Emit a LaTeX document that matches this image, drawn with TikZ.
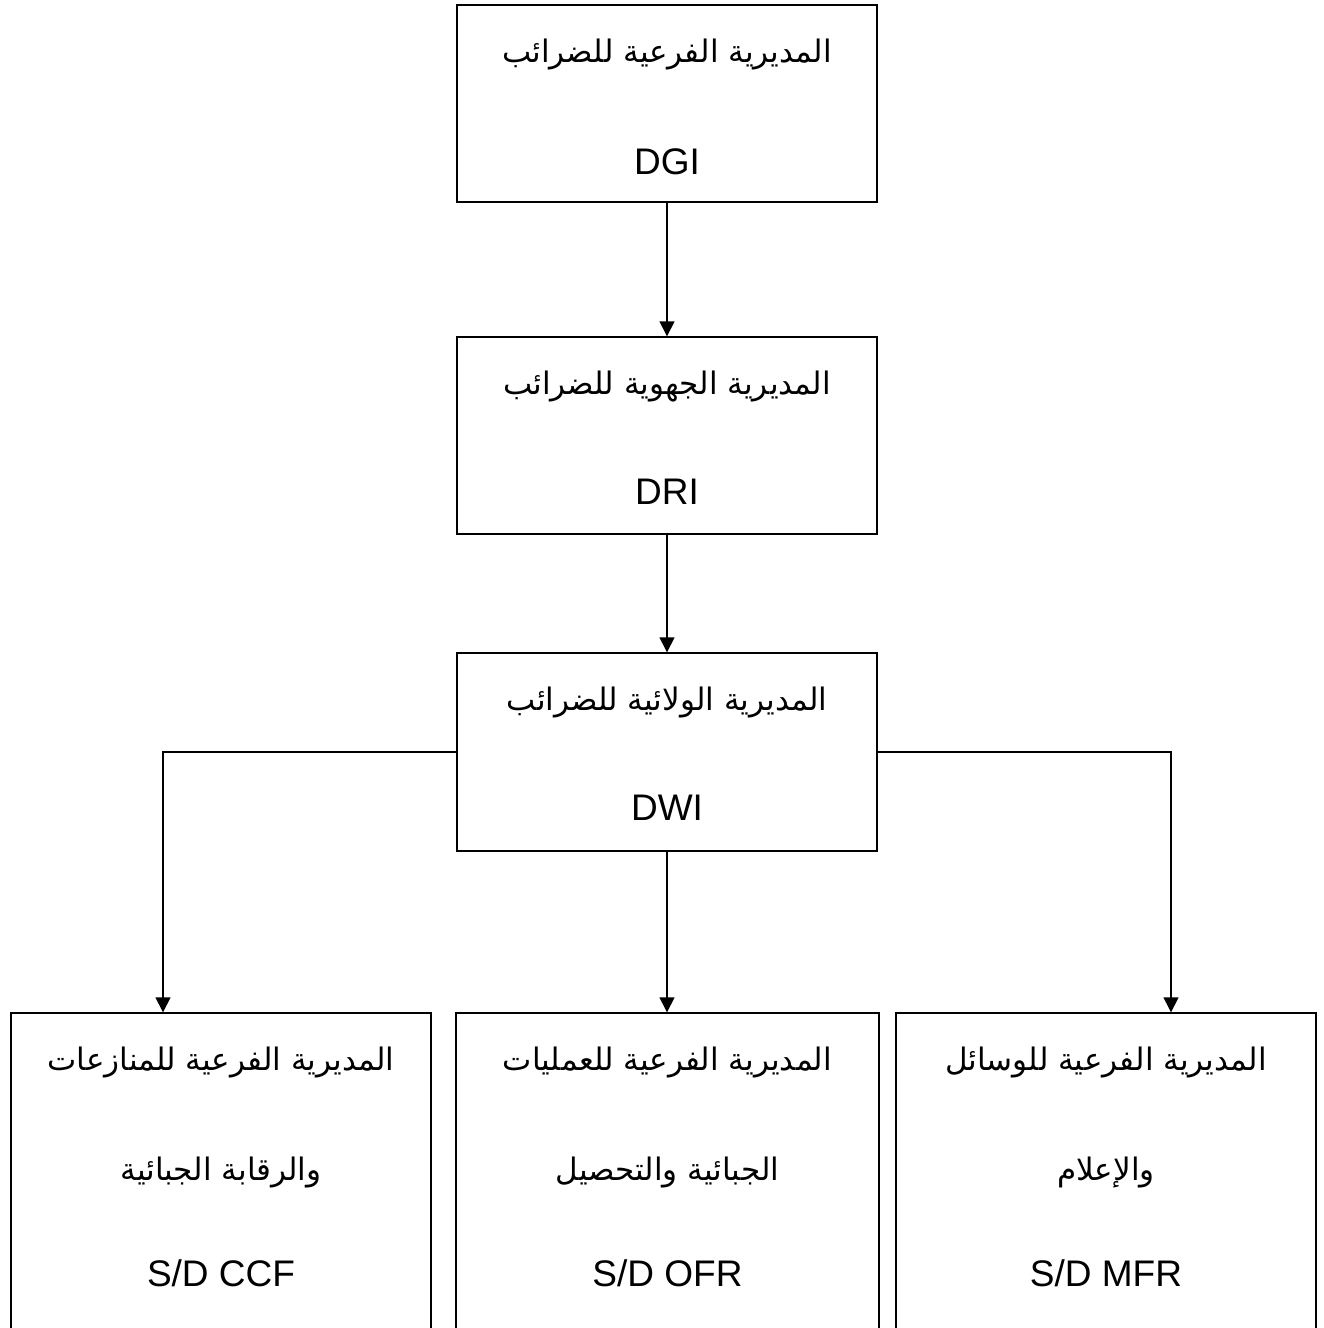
\documentclass[tikz,border=0pt]{standalone}
\usepackage{fontspec}
\setmainfont{Liberation Sans}
\newfontfamily\arabicfont[Script=Arabic]{DejaVu Sans}
\TeXXeTstate=1
\usetikzlibrary{arrows.meta,calc}
\tikzset{
  box/.style={draw=black, line width=1.4pt, rectangle, inner sep=0pt},
  latin/.style={anchor=base, inner sep=0pt, font=\fontsize{37}{42}\selectfont},
  arab/.style={anchor=base, inner sep=0pt, font=\arabicfont\fontsize{31}{36}\selectfont},
  arr/.style={line width=1.4pt, -{Triangle[length=15pt,width=15pt]}},
}
\newcommand{\ar}[1]{\beginR #1\endR}
\begin{document}
\begin{tikzpicture}[x=1pt,y=-1pt]
\clip (0,0) rectangle (1324,1328);
\fill[white] (0,0) rectangle (1324,1328);
% top three boxes
\node[box, minimum width=420pt, minimum height=197pt] (b1) at (667,103.5) {};
\node[box, minimum width=420pt, minimum height=197pt] (b2) at (667,435.5) {};
\node[box, minimum width=420pt, minimum height=198pt] (b3) at (667,752) {};
% bottom boxes
\node[box, minimum width=420pt, minimum height=340pt] (bl) at (221,1183) {};
\node[box, minimum width=423pt, minimum height=340pt] (bm) at (667.5,1183) {};
\node[box, minimum width=420pt, minimum height=340pt] (br) at (1106,1183) {};
% texts
\node[arab]  (t1a) at ($(b1.north)+(0,58)$) {\ar{المديرية الفرعية للضرائب}};
\node[latin] (t1b) at ($(b1.north)+(0,170)$) {DGI};
\node[arab]  (t2a) at ($(b2.north)+(0,58)$) {\ar{المديرية الجهوية للضرائب}};
\node[latin] (t2b) at ($(b2.north)+(0,168)$) {DRI};
\node[arab]  (t3a) at ($(b3.north)+(0,58)$) {\ar{المديرية الولائية للضرائب}};
\node[latin] (t3b) at ($(b3.north)+(0,168)$) {DWI};
\node[arab]  (tla) at ($(bl.north)+(0,58)$) {\ar{المديرية الفرعية للمنازعات}};
\node[arab]  (tlb) at ($(bl.north)+(0,168)$) {\ar{والرقابة الجبائية}};
\node[latin] (tlc) at ($(bl.north)+(0,274)$) {S/D CCF};
\node[arab]  (tma) at ($(bm.north)+(0,58)$) {\ar{المديرية الفرعية للعمليات}};
\node[arab]  (tmb) at ($(bm.north)+(0,168)$) {\ar{الجبائية والتحصيل}};
\node[latin] (tmc) at ($(bm.north)+(0,274)$) {S/D OFR};
\node[arab]  (tra) at ($(br.north)+(0,58)$) {\ar{المديرية الفرعية للوسائل}};
\node[arab]  (trb) at ($(br.north)+(0,168)$) {\ar{والإعلام}};
\node[latin] (trc) at ($(br.north)+(0,274)$) {S/D MFR};
% connectors
\coordinate (lx) at (163,0);
\coordinate (rx) at (1171,0);
\draw[arr] (b1.south) -- (b2.north);
\draw[arr] (b2.south) -- (b3.north);
\draw[arr] (b3.south) -- (b3.south |- bm.north);
\draw[arr] (b3.west) -| (lx |- bl.north);
\draw[arr] (b3.east) -| (rx |- br.north);
\end{tikzpicture}
\end{document}
